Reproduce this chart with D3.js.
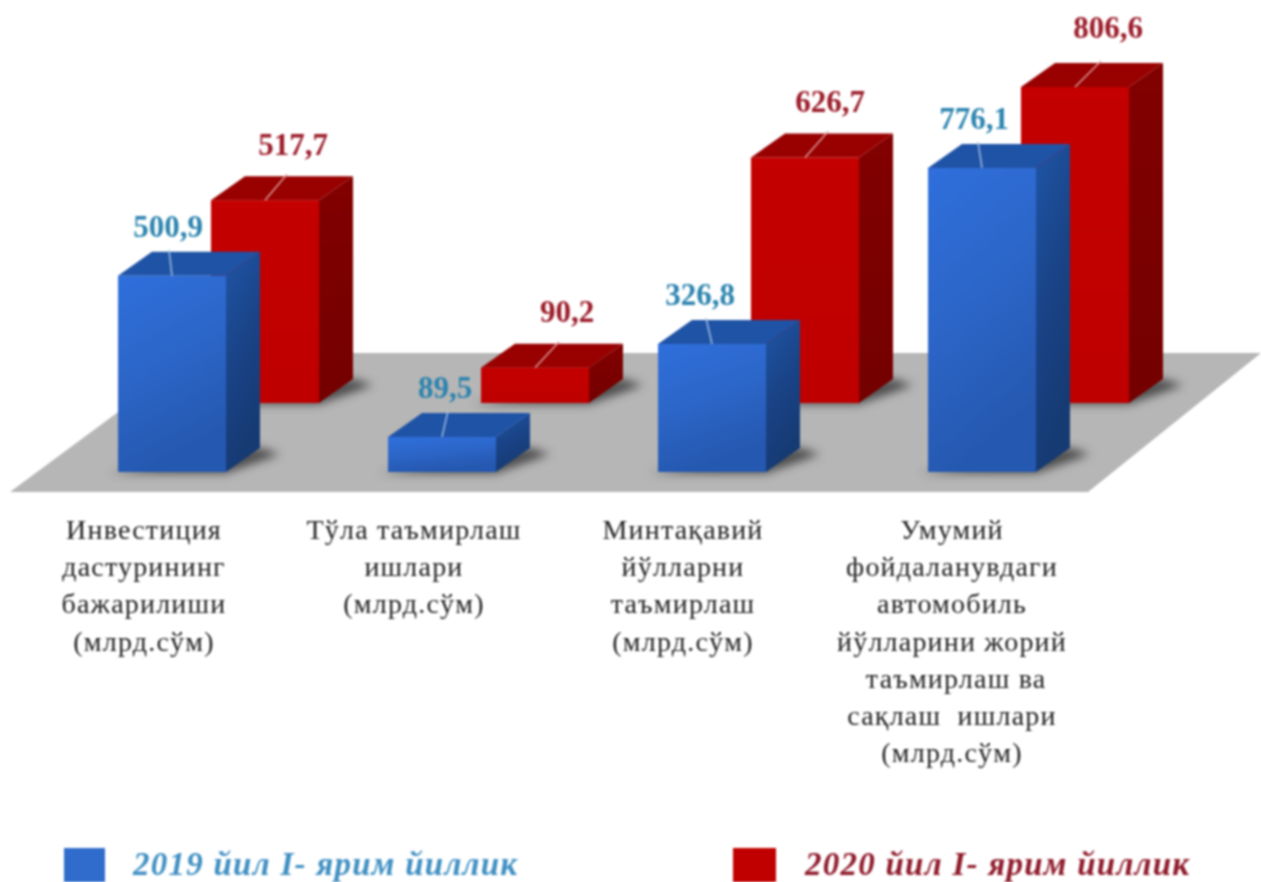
<!DOCTYPE html>
<html>
<head>
<meta charset="utf-8">
<script src="https://cdnjs.cloudflare.com/ajax/libs/d3/7.8.5/d3.min.js"></script>
<style>
  html, body { margin: 0; padding: 0; background: #fff; overflow: hidden; }
  svg { display: block; }
  text { font-family: "Liberation Serif", serif; }
</style>
</head>
<body>
<div id="chart"></div>
<script>
var categories = ["invest", "repair", "regional", "general"];
var categoryLines = [
	["Инвестиция", "дастурининг", "бажарилиши", "(млрд.сўм)"],
	["Тўла таъмирлаш", "ишлари", "(млрд.сўм)"],
	["Минтақавий", "йўлларни", "таъмирлаш", "(млрд.сўм)"],
	["Умумий", "фойдаланувдаги", "автомобиль", "йўлларини жорий", " таъмирлаш ва", "сақлаш  ишлари", "(млрд.сўм)"]
];
var values2019 = [500.9, 89.5, 326.8, 776.1];
var values2020 = [517.7, 90.2, 626.7, 806.6];
var seriesNames = ["2019 йил I- ярим йиллик", "2020 йил I- ярим йиллик"];

var width = 1261,
	height = 882,
	barWidth = 108,
	depthX = 34,
	depthY = -24,
	baseBlue = 472,
	baseRed = 403,
	redShiftX = 93,
	// label and leader nudges, per category
	blueLabelDx = [-4, 3, -12, -8],
	redLabelDx = [28, 32, 25, 33],
	blueLabelDy = [0, 0, 0, 0],
	redLabelDy = [0, -1, 0, -4],
	blueLeadDx = [-3, 6, -6, -4],
	redLeadDx = [22, 24, 23, 26],
	labelCenterX = [144, 414, 683, 952];

var x = d3.scaleBand().domain(categories).range([118, 118 + 270 * 4]).paddingInner(0).align(0);
// heights in px above the bar base
var h = d3.scaleLinear().domain([0, 806.6]).range([0, 316]);

var svg = d3.select("#chart").append("svg")
	.attr("width", width)
	.attr("height", height)
	.style("filter", "blur(0.8px)");

var defs = svg.append("defs");

function gradient(id, stops, x2, y2) {
	var g = defs.append("linearGradient").attr("id", id)
		.attr("x1", 0).attr("y1", 0).attr("x2", x2).attr("y2", y2);
	stops.forEach(function(s, i) {
		g.append("stop").attr("offset", i / (stops.length - 1)).attr("stop-color", s);
	});
}
gradient("blueFront", ["#2f6fdc", "#2c66c8", "#2558b0"], 0.3, 1);
gradient("blueSide", ["#1f55a6", "#1a4488", "#163a72"], 0.3, 1);
gradient("redFront", ["#c40000", "#bf0000"], 0, 1);
gradient("redSide", ["#820000", "#740000"], 0, 1);

defs.append("filter").attr("id", "soft")
	.attr("x", "-30%").attr("y", "-60%").attr("width", "160%").attr("height", "220%")
	.append("feGaussianBlur").attr("stdDeviation", 5);

// floor
svg.append("polygon")
	.attr("points", [[10, 492], [1088, 492], [1261, 353], [198, 353]].join(" "))
	.attr("fill", "#b6b6b6");

var series = [
	{ key: "red", values: values2020, shift: redShiftX, base: baseRed, front: "url(#redFront)", side: "url(#redSide)", top: "#990000", labelDx: redLabelDx, labelDy: redLabelDy, leadDx: redLeadDx, labelFill: "#9b1b28", leadFill: "#e0a0a0", labelUp: 55 },
	{ key: "blue", values: values2019, shift: 0, base: baseBlue, front: "url(#blueFront)", side: "url(#blueSide)", top: "#1f53a6", labelDx: blueLabelDx, labelDy: blueLabelDy, leadDx: blueLeadDx, labelFill: "#2b83ae", leadFill: "#a9c6e8", labelUp: 49 }
];

series.forEach(function(s) {
	var g = svg.append("g").attr("class", "series-" + s.key);
	var bars = s.values.map(function(v, i) {
		var left = x(categories[i]) + s.shift;
		return { v: v, i: i, left: left, right: left + barWidth, top: s.base - h(v) };
	});

	// shadow cast on the floor
	g.selectAll(".shadow").data(bars).enter().append("polygon")
		.attr("class", "shadow")
		.attr("filter", "url(#soft)")
		.attr("fill", "#4a4a4a")
		.attr("points", function(d) {
			return [[d.left - 8, s.base + 1], [d.right, s.base + 1], [d.right + depthX + 20, s.base + depthY + 6], [d.right + depthX, s.base + depthY]].join(" ");
		});

	var bar = g.selectAll(".bar").data(bars).enter().append("g").attr("class", "bar");

	bar.append("polygon")
		.attr("fill", s.side)
		.attr("points", function(d) {
			return [[d.right, d.top], [d.right + depthX, d.top + depthY], [d.right + depthX, s.base + depthY], [d.right, s.base]].join(" ");
		});
	bar.append("polygon")
		.attr("fill", s.top)
		.attr("points", function(d) {
			return [[d.left, d.top], [d.left + depthX, d.top + depthY], [d.right + depthX, d.top + depthY], [d.right, d.top]].join(" ");
		});
	bar.append("rect")
		.attr("fill", s.front)
		.attr("x", function(d) { return d.left; })
		.attr("y", function(d) { return d.top; })
		.attr("width", barWidth)
		.attr("height", function(d) { return s.base - d.top; });

	// leader from the bar to its value
	bar.append("line")
		.attr("stroke", s.leadFill)
		.attr("stroke-width", 1.4)
		.attr("x1", function(d) { return d.left + barWidth / 2; })
		.attr("y1", function(d) { return d.top; })
		.attr("x2", function(d) { return d.left + barWidth / 2 + s.leadDx[d.i]; })
		.attr("y2", function(d) { return d.top + depthY - 2; });
});

// value labels on top of every bar
series.forEach(function(s) {
	svg.append("g").selectAll("text").data(s.values).enter().append("text")
		.attr("x", function(d, i) { return x(categories[i]) + s.shift + barWidth / 2 + s.labelDx[i]; })
		.attr("y", function(d, i) { return s.base - h(d) - s.labelUp + 10 + s.labelDy[i]; })
		.attr("text-anchor", "middle")
		.attr("font-size", 31)
		.attr("font-weight", "bold")
		.attr("fill", s.labelFill)
		.text(function(d) { return d3.format(".1f")(d).replace(".", ","); });
});

// category labels
var cat = svg.append("g").selectAll("g").data(categoryLines).enter().append("g");
cat.selectAll("text")
	.data(function(d, i) { return d.map(function(t) { return { t: t, c: labelCenterX[i] }; }); })
	.enter().append("text")
	.attr("x", function(d) { return d.c; })
	.attr("y", function(d, j) { return 539 + j * 37.2; })
	.attr("text-anchor", "middle")
	.attr("font-size", 28)
	.attr("letter-spacing", 1.2)
	.attr("fill", "#222")
	.style("white-space", "pre")
	.text(function(d) { return d.t; });

// legend
var legend = svg.append("g");
var legendItems = [
	{ x: 64, w: 41, fill: "#2f6ccb", text: "#3f8fc2", tx: 133, name: seriesNames[0] },
	{ x: 733, w: 43, fill: "#c00000", text: "#8f1a2a", tx: 805, name: seriesNames[1] }
];
legend.selectAll("rect").data(legendItems).enter().append("rect")
	.attr("x", function(d) { return d.x; })
	.attr("y", 848)
	.attr("width", function(d) { return d.w; })
	.attr("height", 34)
	.attr("fill", function(d) { return d.fill; });
legend.selectAll("text").data(legendItems).enter().append("text")
	.attr("x", function(d) { return d.tx; })
	.attr("y", 875)
	.attr("font-size", 33)
	.attr("letter-spacing", 1.25)
	.attr("font-weight", "bold")
	.attr("font-style", "italic")
	.attr("fill", function(d) { return d.text; })
	.text(function(d) { return d.name; });
</script>
</body>
</html>
